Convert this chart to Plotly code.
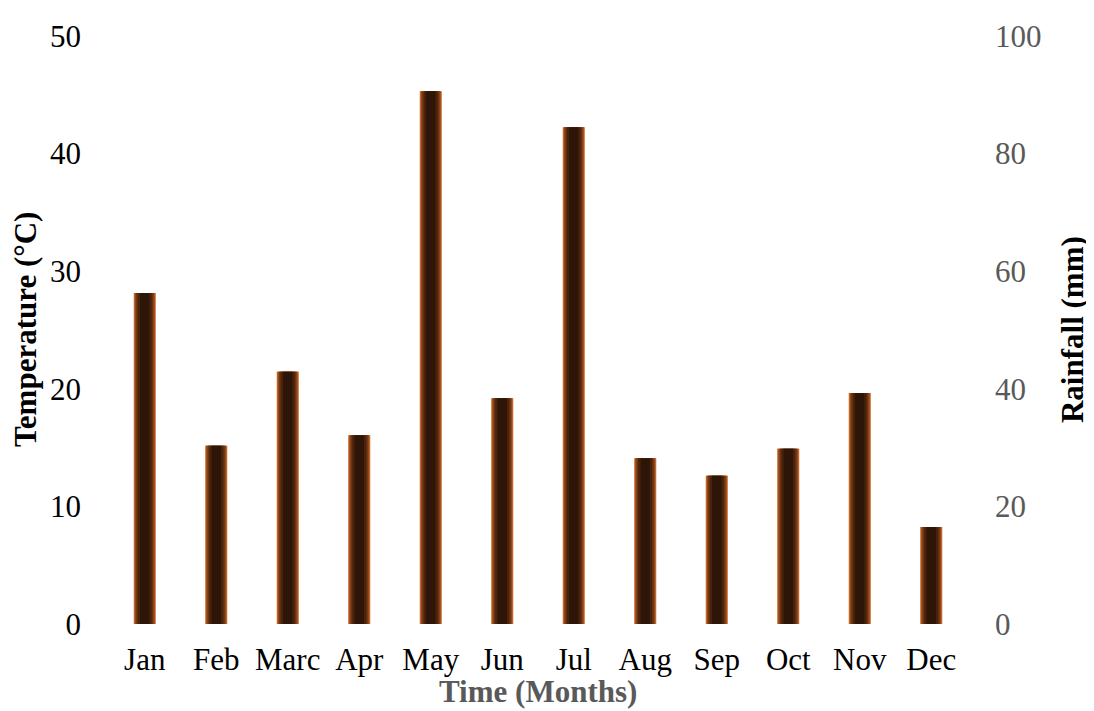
import plotly.graph_objects as go

months = ["Jan", "Feb", "Marc", "Apr", "May", "Jun", "Jul", "Aug", "Sep", "Oct", "Nov", "Dec"]
rainfall = [56.3, 30.3, 42.9, 32.1, 90.6, 38.4, 84.5, 28.2, 25.2, 29.8, 39.3, 16.5]

temp_ticks = [0, 10, 20, 30, 40, 50]
rain_ticks = [0, 20, 40, 60, 80, 100]

FONT = "Liberation Serif, Times New Roman, serif"
FS = 31

# layered bars to imitate the edge-to-centre gradient fill
layers = [
    (0.31, "#de8646"),
    (0.295, "#bb622a"),
    (0.275, "#93481c"),
    (0.24, "#6a3414"),
    (0.195, "#48220d"),
    (0.13, "#2d1608"),
]

fig = go.Figure()
fig.add_trace(go.Scatter(x=months, y=[None] * len(months), yaxis="y",
                         showlegend=False, hoverinfo="skip"))
for w, c in layers:
    fig.add_trace(go.Bar(x=months, y=rainfall, width=w, yaxis="y2",
                         marker=dict(color=c, line=dict(width=0)),
                         showlegend=False, name="Rainfall"))

fig.update_layout(
    width=1086, height=703,
    margin=dict(l=101, r=127, t=28, b=87),
    paper_bgcolor="white", plot_bgcolor="white",
    barmode="overlay",
    font=dict(family=FONT, size=FS, color="black"),
    xaxis=dict(
        type="category", range=[-0.5, 11.5],
        showline=False, showgrid=False, zeroline=False, ticks="",
        ticklabelstandoff=14,
        tickfont=dict(family=FONT, size=FS, color="black"),
    ),
    yaxis=dict(
        range=[0, 50], tickvals=temp_ticks,
        showline=False, showgrid=False, zeroline=False, ticks="",
        ticklabelstandoff=27,
        tickfont=dict(family=FONT, size=FS, color="black"),
    ),
    yaxis2=dict(
        range=[0, 100], tickvals=rain_ticks, overlaying="y", side="right",
        showline=False, showgrid=False, zeroline=False, ticks="",
        ticklabelstandoff=27,
        tickfont=dict(family=FONT, size=FS, color="#595959"),
    ),
    annotations=[
        dict(text="<b>Time (Months)</b>", xref="paper", yref="paper",
             x=0.5, y=-0.1156, xanchor="center", yanchor="middle", showarrow=False,
             font=dict(family=FONT, size=FS, color="#595959")),
        dict(text="<b>Temperature (°C)</b>", xref="paper", yref="paper",
             x=-0.0979, y=0.5, xanchor="center", yanchor="middle", textangle=-90,
             showarrow=False, font=dict(family=FONT, size=FS, color="black")),
        dict(text="<b>Rainfall (mm)</b>", xref="paper", yref="paper",
             x=1.1224, y=0.5, xanchor="center", yanchor="middle", textangle=-90,
             showarrow=False, font=dict(family=FONT, size=FS, color="black")),
    ],
)

fig.write_html("out.html")
